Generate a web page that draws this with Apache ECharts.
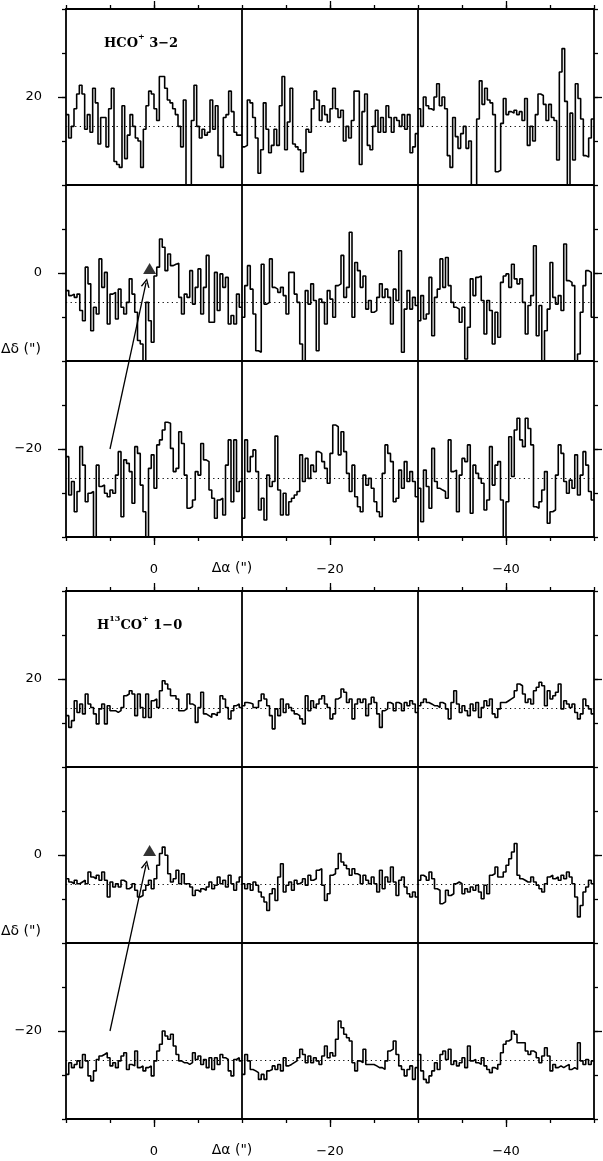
<!DOCTYPE html>
<html>
<head>
<meta charset="utf-8">
<script src="https://cdn.jsdelivr.net/npm/echarts@6/dist/echarts.min.js"></script>
<style>
  html, body { margin: 0; padding: 0; background: #fff; }
  #chart { width: 603px; height: 1161px; }
</style>
</head>
<body>
<div id="chart"></div>
<script>
// ---- HCO+ 3-2 spectra (T, K) ; name = Δδ_Δα offsets ----
const HCO_20_0 = [0.4,-0.4,0,0.6,1.1,1.4,1.1,-0.1,0.4,-0.2,1.3,0.8,-0.6,0.3,0.3,-0.7,0.6,1.3,-1.2,-1.3,-1.4,0.7,-1.1,-0.3,0.4,0,-0.4,-0.5,-1.4,-0.1,0.7,1.2,1.1,0.6,0.2,1.7,1.7,1.3,0.9,0.8,0.6,0.4,0,-0.7,0.9,-2.1,-2.1,0.2,1.4,0,-0.4,-0.1,-0.3,-0.2,0.9,-0.1,0.7,-1,-1.4,0.3,0.4,1.2,0.5,-0.2,-0.3,-0.3];
const HCO_20_m20 = [-0.7,-0.65,0.9,0.8,0.3,-0.4,-1.6,-0.8,0.8,-0.1,-0.9,-0.65,-0.1,-0.65,0.7,1.7,-0.8,0.15,1.3,-0.6,-0.7,-0.8,-1.55,-0.9,-0.1,-0.2,0.6,1.2,0.9,0.2,0.7,0.4,0.15,0.6,1.3,0.6,0.3,0.55,-0.5,0,-0.4,0.2,1.2,1.2,-1.3,0.5,1.1,-0.65,-0.8,0,0.55,-0.2,0.3,-0.2,0.7,0.3,-0.2,0.3,0.2,0,0.4,-0.1,0.4,-0.9,-0.7,-0.25];
const HCO_20_m40 = [0.6,0,1.0,0.7,0.6,0.55,1.0,1.45,0.7,1.0,0.6,-1.0,-1.4,0.3,-0.35,-0.75,-0.25,0,-0.75,-0.5,-2.1,-2.1,0.25,1.55,0.75,1.3,0.9,0.8,0.4,-1.55,-1.5,0.1,0.95,0.4,0.5,0.45,0.55,0.4,0.5,0.2,0.95,-0.65,0,-0.5,0.4,1.1,1.05,0.75,0.2,0.75,0.3,0.2,-1.15,1.85,2.65,0.85,-2.1,0.45,-1.15,1.45,0.95,0.25,-1.0,-1.05,-0.4,0.25];
const HCO_0_0 = [0.4,0.23,0.28,0.17,0.28,-0.28,-0.63,1.2,0.63,-0.97,-0.17,-0.4,1.48,0.51,1.02,-0.74,0.28,0.34,-0.57,0.45,-0.17,-0.4,0,0.8,0.28,-0.34,-1.3,-1.42,-2.1,0,-0.63,-1.36,0.9,1.2,2.16,1.88,1.08,1.65,1.25,1.3,1.33,0.17,-0.4,0.28,0.17,1.08,-0.06,0.51,1.14,-0.4,0.51,1.6,-0.68,-0.68,1.02,-0.28,0.97,0.51,0.85,-0.74,-0.45,-0.74,0.28,-0.17];
const HCO_0_m20 = [-0.51,0.57,1.25,0.45,-0.4,-1.65,-1.7,1.3,-0.06,0,1.48,0.51,0.45,0.34,0.51,0.23,-0.4,1.02,1.02,0.28,0,-1.42,-2.1,0.4,-0.06,0.63,0.06,-1.65,0.11,0,-0.74,0.4,0.11,-0.51,0.57,0.63,1.6,0.17,0.51,2.39,-0.51,1.36,1.08,0.51,0.9,-0.23,0.06,-0.34,-0.28,0.17,0.63,0.17,0.45,0.17,-0.74,0.45,0.06,1.76,-1.7,-0.23,0.4,-0.23,0.17,-0.11];
const HCO_0_m40 = [-0.63,0.23,-0.57,-0.4,0.85,-1.14,0.17,0.45,1.48,0.51,1.53,0.57,0,-0.17,-0.23,-0.68,-0.17,-1.93,-0.85,0.8,0.23,0.85,0.9,0.06,-1.08,0.06,-0.28,-1.42,-0.34,-1.19,0.68,0.9,0.97,0.51,1.3,0.8,0.63,0.8,0,-1.08,-0.11,0.23,1.93,-1.14,-0.11,-2.1,-0.97,-0.23,1.36,0.17,-0.06,0.23,-0.28,1.99,0.74,0.68,0.57,-2.1,-1.76,-0.34,0.57,1.08,1.02,-0.51];
const HCO_m20_0 = [0.74,-0.57,-0.11,-1.14,-0.45,1.08,0.45,-0.8,-0.51,-0.45,-2.1,0.45,-0.28,-0.23,-0.51,-0.63,-0.4,-0.51,0.11,0.91,-1.31,0.63,0.51,0.23,-0.85,1.08,0.85,-0.23,-1.14,-2.1,0.34,0.8,-0.34,1.14,1.31,1.65,1.91,1.88,1.02,0.23,0.34,1.59,1.19,0.11,-1.02,-0.97,-0.74,0.23,0.11,1.19,0.63,0.57,-0.4,-0.68,-1.36,-0.74,-0.68,-1.25,0.45,1.31,-0.8,1.31,-0.45,-0.11];
const HCO_m20_m20 = [-1.36,1.31,0.23,0.74,0.97,0.23,-1.08,-0.68,-1.42,0.11,-0.28,-0.11,1.44,-0.4,-1.25,-0.51,-1.25,-0.8,-0.68,-0.57,-0.45,0.8,-0.11,0.68,0,0.45,0.23,0.91,0.85,0.57,0.34,-0.17,0.85,1.82,1.76,0.8,1.59,0.91,0.17,-0.45,0.45,-0.63,-0.97,-1.14,0.11,-0.23,0,-0.34,-0.8,-1.14,-1.31,0.17,1.14,0.85,0.57,-0.8,-0.68,0.28,-0.34,0.57,-0.11,0.23,-0.11,-0.63];
const HCO_m20_m40 = [-0.34,-1.48,0.28,-0.28,-1.02,1.02,-0.11,-0.34,-0.4,-0.45,-0.68,1.31,0.23,0.28,-1.14,0.11,0.68,0.57,1.14,-1.19,0.45,0.17,0,-0.17,-1.08,-0.74,1.08,-0.23,0.45,0.57,-0.74,-2.1,-0.8,1.42,0.06,1.65,2.05,1.31,1.08,2.05,1.7,1.14,-0.97,-1.02,-0.8,-0.4,0.23,-1.53,-1.14,-1.08,0.11,1.14,0.85,-0.11,-0.51,-0.06,-0.34,0.8,-0.57,0.11,0.91,0.45,-0.45,-0.74];

// ---- H13CO+ 1-0 spectra ----
const H13_20_0 = [-0.25,-0.65,-0.42,0.26,-0.14,0.15,-0.19,0.49,0.15,0.03,-0.19,-0.53,-0.02,0.15,-0.53,0.09,-0.08,-0.08,-0.14,-0.08,0.03,0.43,0.49,0.6,0.49,-0.25,0.49,0.03,-0.31,0.49,-0.31,0.26,0.32,0.03,0.6,0.94,0.83,0.66,0.43,0.43,0.32,-0.08,-0.08,-0.02,0.49,0.15,0.09,-0.48,0.03,0.55,-0.19,-0.25,-0.31,-0.19,-0.25,-0.14,0.43,0.32,0.03,-0.36,-0.08,0.09,0.15,0.03];
const H13_20_m20 = [0.09,0.2,0.18,0.15,0.03,0.03,0.26,0.49,0.32,0.09,-0.25,-0.7,-0.02,-0.25,0.32,-0.14,0.15,0.03,-0.08,-0.19,-0.25,-0.36,-0.53,0.43,-0.08,0.26,0.03,0.15,0.32,0.43,0.15,0.03,-0.36,-0.19,0.32,0.38,0.66,0.55,0.2,0.32,-0.36,0.15,0.32,0.2,0.32,-0.25,0.15,0.38,0.2,-0.19,-0.65,-0.08,-0.02,0.2,0.15,-0.08,0.2,0.15,-0.08,0.2,0.09,0.26,0.15,-0.14];
const H13_20_m40 = [0.09,0.2,0.32,0.2,0.15,0.09,0.09,0.03,0.2,0.15,-0.02,-0.36,0.2,0.6,0.15,-0.14,0.09,-0.08,-0.25,0.15,-0.08,0.2,-0.31,0.03,0.26,0.09,0.32,-0.19,-0.31,-0.02,0.2,0.2,0.26,0.32,0.38,0.6,0.83,0.77,0.49,0.2,0.32,0.15,0.6,0.72,0.89,0.77,0.09,0.6,0.32,0.43,0.55,0.83,-0.02,0.26,0.15,0.03,0.15,-0.14,-0.36,-0.19,0.32,0.09,-0.02,-0.19];
const H13_0_0 = [0.19,0.08,0.02,0.14,0.02,0.08,0.14,0.02,0.42,0.25,0.19,0.31,0.14,0.42,0.14,-0.43,0.08,-0.09,0.02,-0.09,0.14,0.08,-0.15,-0.09,0.02,-0.2,-0.43,-0.38,-0.2,-0.03,0.14,-0.15,0.19,0.65,1.05,1.27,0.99,0.36,0.08,0.19,0.48,0.02,0.36,0.02,0.02,-0.09,-0.38,-0.2,-0.26,-0.15,-0.2,-0.09,0.08,-0.15,-0.03,0.25,0.02,0.14,-0.09,0.31,0.02,-0.2,0.08,0.25];
const H13_0_m20 = [0.02,-0.15,0.02,-0.2,0.08,-0.03,-0.26,-0.43,-0.6,-0.89,-0.32,-0.15,-0.55,0.25,0.7,-0.26,-0.03,0.08,-0.2,0.14,0.02,0.08,0.19,-0.03,0.31,0.14,0.19,0.48,0.53,-0.03,-0.55,-0.32,0.31,0.36,0.53,1.05,0.76,0.65,0.53,0.31,0.53,0.36,0.31,0.02,0.31,0.14,0.02,0.25,0.02,-0.26,0.48,-0.15,0.25,0.08,0.59,0.08,-0.38,0.14,0.25,-0.09,-0.32,-0.43,-0.26,-0.43];
const H13_0_m40 = [0.14,0.31,0.25,0.14,0.42,0.19,-0.15,-0.2,-0.66,-0.6,-0.2,-0.38,-0.32,0.02,0.08,0.02,-0.32,-0.15,-0.26,-0.09,-0.2,-0.03,-0.26,-0.49,-0.03,-0.32,0.31,0.36,0.59,0.25,0.25,0.42,0.65,0.87,1.1,1.39,0.31,0.19,0.14,0.08,0.08,0.25,0.08,-0.03,-0.15,-0.26,0.02,0.25,0.31,0.19,0.25,0.14,0.31,0.19,0.42,0.25,0.02,-0.43,-1.11,-0.72,-0.26,-0.09,0.14,0.02];
const H13_m20_0 = [-0.48,-0.08,-0.25,-0.14,-0.02,-0.25,0.2,-0.02,-0.53,-0.7,-0.36,0.03,0.15,0.2,0.26,0.09,-0.19,-0.08,-0.25,-0.02,0.15,0.26,-0.31,-0.14,-0.19,0.32,-0.25,-0.19,-0.36,-0.25,-0.19,-0.53,-0.02,0.32,0.55,1.0,0.83,0.72,0.89,0.49,0.2,-0.02,-0.08,-0.08,-0.14,-0.08,0.26,0.03,0.15,-0.14,0.03,-0.25,0.09,-0.31,0.09,-0.14,0.2,0.09,0.03,-0.36,-0.53,0.03,0.09,-0.02];
const H13_m20_m20 = [-0.48,0.2,-0.02,-0.31,-0.36,-0.42,-0.65,-0.48,-0.65,-0.36,-0.31,-0.19,-0.31,-0.14,-0.36,0.09,-0.19,-0.14,-0.08,-0.02,0.09,0.38,0.2,-0.08,0.15,-0.08,0.09,-0.02,-0.14,0.15,0.49,0.09,0.26,0.15,0.72,1.34,1.11,0.89,0.77,0.66,-0.08,-0.36,-0.02,-0.08,0.38,-0.14,-0.14,-0.14,-0.19,-0.25,-0.25,-0.31,-0.02,0.32,0.38,0.66,0.2,-0.19,-0.31,-0.53,-0.31,-0.19,-0.65,-0.25];
const H13_m20_m40 = [0.2,-0.36,-0.65,-0.76,-0.53,-0.36,-0.08,-0.31,0.2,0.32,0.03,0.38,-0.14,-0.02,-0.19,-0.08,0.09,-0.25,0.49,-0.02,0.03,-0.08,-0.14,0.09,-0.19,-0.31,-0.42,-0.25,-0.31,-0.14,0.26,0.55,0.66,0.72,1.0,0.89,0.6,0.6,0.6,0.32,0.2,0.32,0.26,0.09,-0.08,0.15,0.43,0.15,-0.36,-0.14,-0.25,-0.19,-0.25,-0.19,-0.14,-0.31,-0.25,-0.31,0.6,-0.02,-0.14,0.03,-0.14,-0.02];

// ---- map axes (arcsec) ----
const raTicks = [10, 5, 0, -5, -10, -15, -20, -25, -30, -35, -40, -45, -50];
const decTicks = [30, 25, 20, 15, 10, 5, 0, -5, -10, -15, -20, -25, -30];
const raLabels = [0, -20, -40];
const decLabels = [20, 0, -20];
const raCellEdges = [-10, -30];
const decCellEdges = [10, -10];
const sourcePos = [0.5, 0.5];
const arrowFrom = [5, -20];
const arrowTo = [0.9, -1.1];

const hcoGrid = [[HCO_20_0, HCO_20_m20, HCO_20_m40], [HCO_0_0, HCO_0_m20, HCO_0_m40], [HCO_m20_0, HCO_m20_m20, HCO_m20_m40]];
const h13Grid = [[H13_20_0, H13_20_m20, H13_20_m40], [H13_0_0, H13_0_m20, H13_0_m40], [H13_m20_0, H13_m20_m20, H13_m20_m40]];

const FONT = 'DejaVu Sans';
const LEFT = 66, CELL = 176, SIZE = 528;
const panels = [
  { top: 9, spectra: hcoGrid, title: '{b|HCO}{s|+}{b| 3\u22122}', titleTop: 33, titleLeft: 104 },
  { top: 591, spectra: h13Grid, title: '{b|H}{s|13}{b|CO}{s|+}{b| 1\u22120}', titleTop: 615, titleLeft: 97 }
];

const fmt = v => (v < 0 ? '\u2212' + (-v) : String(v));
const axisLineStyle = { color: '#000', width: 1.8 };
const tickStyle = { color: '#000', width: 1.3 };

const grid = [], xAxis = [], yAxis = [], series = [], graphic = [];

panels.forEach((p) => {
  const gi = grid.length;
  grid.push({ left: LEFT, top: p.top, width: SIZE, height: SIZE });
  const x0 = xAxis.length, y0 = yAxis.length;
  ['bottom', 'top'].forEach(pos => {
    xAxis.push({
      gridIndex: gi, type: 'value', position: pos, min: -50, max: 10, inverse: true,
      axisLine: { show: true, onZero: false, lineStyle: axisLineStyle },
      axisTick: { show: true, inside: false, length: 4, customValues: raTicks, lineStyle: tickStyle },
      axisLabel: pos === 'bottom'
        ? { show: true, customValues: raLabels, formatter: fmt, margin: 26, color: '#000', fontSize: 13, fontFamily: FONT }
        : { show: false },
      splitLine: { show: false }
    });
    xAxis.push({
      gridIndex: gi, type: 'value', position: pos, min: -50, max: 10, inverse: true,
      axisLine: { show: false, onZero: false },
      axisTick: { show: true, inside: false, length: 8, customValues: raLabels, lineStyle: tickStyle },
      axisLabel: { show: false }, splitLine: { show: false }
    });
  });
  ['left', 'right'].forEach(pos => {
    yAxis.push({
      gridIndex: gi, type: 'value', position: pos, min: -30, max: 30,
      axisLine: { show: true, onZero: false, lineStyle: axisLineStyle },
      axisTick: { show: true, inside: false, length: 4, customValues: decTicks, lineStyle: tickStyle },
      axisLabel: pos === 'left'
        ? { show: true, customValues: decLabels, formatter: fmt, margin: 24, color: '#000', fontSize: 13, fontFamily: FONT }
        : { show: false },
      splitLine: { show: false }
    });
    yAxis.push({
      gridIndex: gi, type: 'value', position: pos, min: -30, max: 30,
      axisLine: { show: false, onZero: false },
      axisTick: { show: true, inside: false, length: 8, customValues: decLabels, lineStyle: tickStyle },
      axisLabel: { show: false }, splitLine: { show: false }
    });
  });

  // source marker + cell boundaries
  series.push({
    type: 'scatter', xAxisIndex: x0, yAxisIndex: y0, data: [sourcePos],
    symbol: 'triangle', symbolSize: [13, 11], itemStyle: { color: '#000' }, silent: true, z: 5,
    markLine: {
      silent: true, symbol: ['none', 'none'], label: { show: false },
      lineStyle: { color: '#000', width: 1.8, type: 'solid' },
      data: raCellEdges.map(v => ({ xAxis: v })).concat(decCellEdges.map(v => ({ yAxis: v })))
    }
  });
  series.push({
    type: 'lines', coordinateSystem: 'cartesian2d', xAxisIndex: x0, yAxisIndex: y0, silent: true, z: 5,
    symbol: ['none', 'path://M0,10 L5,0 L10,10 L8.4,10 L5,3.2 L1.6,10 Z'], symbolSize: [7, 9],
    lineStyle: { color: '#000', width: 1.3, opacity: 1 },
    data: [{ coords: [arrowFrom, arrowTo] }]
  });

  // spectra, one small hidden-axis grid per map position
  p.spectra.forEach((row, r) => {
    row.forEach((spec, c) => {
      const g = grid.length;
      grid.push({ left: LEFT + c * CELL, top: p.top + r * CELL, width: CELL, height: CELL });
      const xi = xAxis.length, yi = yAxis.length;
      xAxis.push({ gridIndex: g, type: 'value', min: 0, max: spec.length, show: false });
      yAxis.push({ gridIndex: g, type: 'value', min: -2, max: 4, show: false });
      const data = spec.map((v, i) => [i, v]);
      data.push([spec.length, spec[spec.length - 1]]);
      series.push({
        type: 'line', xAxisIndex: xi, yAxisIndex: yi, step: 'end', data,
        symbol: 'none', showSymbol: false, silent: true, clip: true,
        lineStyle: { color: '#000', width: 1.6 },
        markLine: {
          silent: true, symbol: ['none', 'none'], label: { show: false },
          lineStyle: { color: '#000', width: 1, type: [1.2, 3.4] },
          data: [{ yAxis: 0 }]
        }
      });
    });
  });

  graphic.push({
    type: 'text', left: p.titleLeft, top: p.titleTop,
    style: {
      text: p.title,
      rich: {
        b: { fontFamily: 'DejaVu Serif', fontWeight: 'bold', fontSize: 13, lineHeight: 17, verticalAlign: 'bottom', fill: '#000' },
        s: { fontFamily: 'DejaVu Serif', fontWeight: 'bold', fontSize: 8, lineHeight: 17, verticalAlign: 'top', fill: '#000' }
      }
    }
  });
  graphic.push({
    type: 'text', x: 232, y: p.top + 559,
    style: { text: '\u0394\u03b1 (")', align: 'center', verticalAlign: 'middle', fontFamily: FONT, fontSize: 14, fill: '#000' }
  });
  graphic.push({
    type: 'text', x: 1, y: p.top + 340,
    style: { text: '\u0394\u03b4 (")', align: 'left', verticalAlign: 'middle', fontFamily: FONT, fontSize: 14, fill: '#000' }
  });
});

const chart = echarts.init(document.getElementById('chart'));
chart.setOption({
  animation: false,
  backgroundColor: '#fff',
  textStyle: { fontFamily: FONT },
  grid, xAxis, yAxis, series, graphic
});
</script>
</body>
</html>
